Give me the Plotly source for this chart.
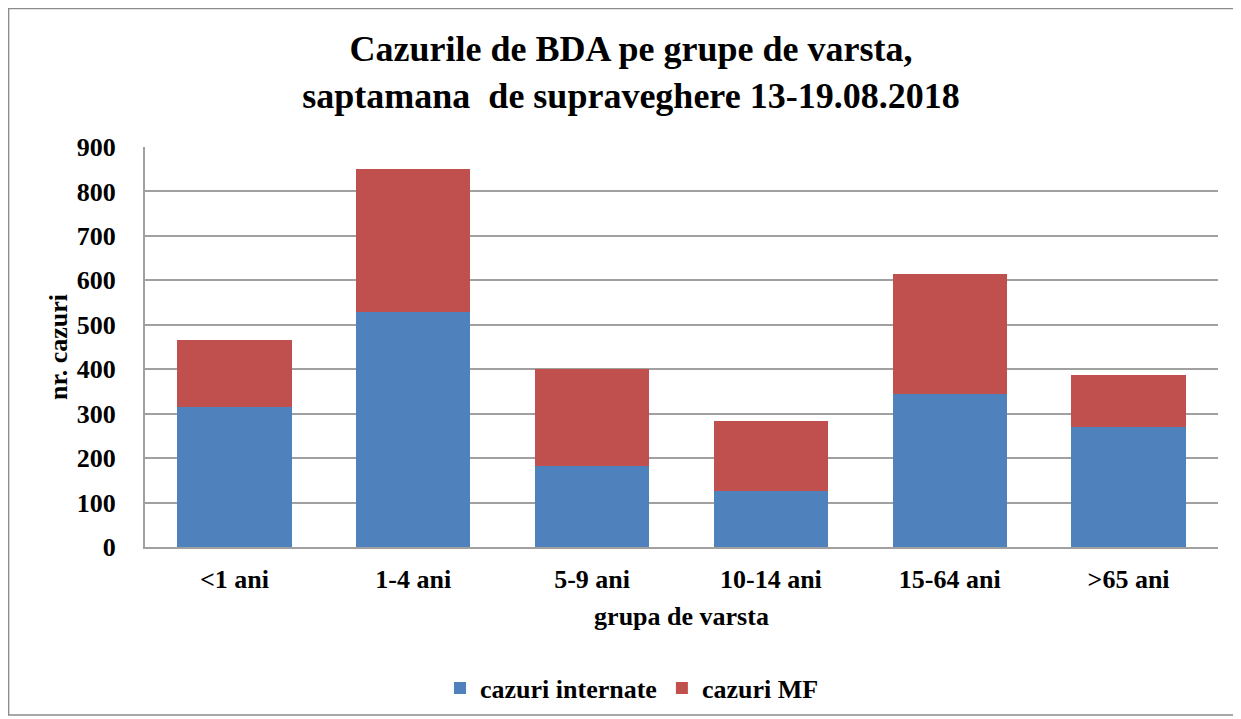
import plotly.graph_objects as go

categories = ["<1 ani", "1-4 ani", "5-9 ani", "10-14 ani", "15-64 ani", ">65 ani"]
internate = [315, 529, 182, 125, 344, 269]
mf = [150, 322, 219, 158, 271, 119]
y_ticks = [0, 100, 200, 300, 400, 500, 600, 700, 800, 900]

FONT = "Liberation Serif"
# page has 8px body margin; figure sized so it ends at the window edge
W, H = 1233, 711
L, R, T, B = 137, 23, 139, 172
pw, ph = W - L - R, H - T - B

def fx(p):  # page px -> paper x
    return (p - 8 - L) / pw

def fy(p):  # page px -> paper y
    return (H - B - (p - 8)) / ph

fig = go.Figure()
fig.add_trace(go.Bar(x=categories, y=internate, name="cazuri internate",
                     marker=dict(color="#4F81BD", line=dict(width=0))))
fig.add_trace(go.Bar(x=categories, y=mf, name="cazuri MF",
                     marker=dict(color="#C0504D", line=dict(width=0))))

bold = dict(family=FONT, color="black", weight="bold")

fig.update_layout(
    width=W, height=H,
    barmode="stack", bargap=0.36,
    plot_bgcolor="white", paper_bgcolor="white",
    margin=dict(l=L, r=R, t=T, b=B, autoexpand=False),
    font=dict(family=FONT, color="black", size=26),
    title=dict(text="Cazurile de BDA pe grupe de varsta,<br>saptamana  de supraveghere 13-19.08.2018",
               x=(631 - 8) / W, xanchor="center", xref="container",
               y=(H - 53) / H, yanchor="middle",
               font=dict(size=36, **bold)),
    xaxis=dict(title=dict(text="grupa de varsta", font=dict(size=26, **bold), standoff=14),
               tickfont=dict(size=26, **bold), ticklabelstandoff=8,
               showline=True, linecolor="#a0a0a0", linewidth=2, ticks=""),
    yaxis=dict(title=dict(text="nr. cazuri", font=dict(size=26, **bold), standoff=2),
               range=[0, 900], tickvals=y_ticks, tickfont=dict(size=26, **bold),
               ticklabelstandoff=22,
               showline=True, linecolor="#a0a0a0", linewidth=2,
               showgrid=True, gridcolor="#a0a0a0", gridwidth=1.5,
               ticks="", zeroline=False),
    legend=dict(orientation="h", x=fx(440), xanchor="left", y=fy(688), yanchor="middle",
                font=dict(size=26, **bold), traceorder="normal", itemwidth=30),
    showlegend=True,
)

fig.add_shape(type="rect", xref="paper", yref="paper",
              x0=-L / pw + 0.6 / pw, x1=fx(1237), y0=fy(715), y1=fy(8.5),
              line=dict(color="#8c8c8c", width=1.5), fillcolor="rgba(0,0,0,0)", layer="below")

fig.write_html("out.html")
